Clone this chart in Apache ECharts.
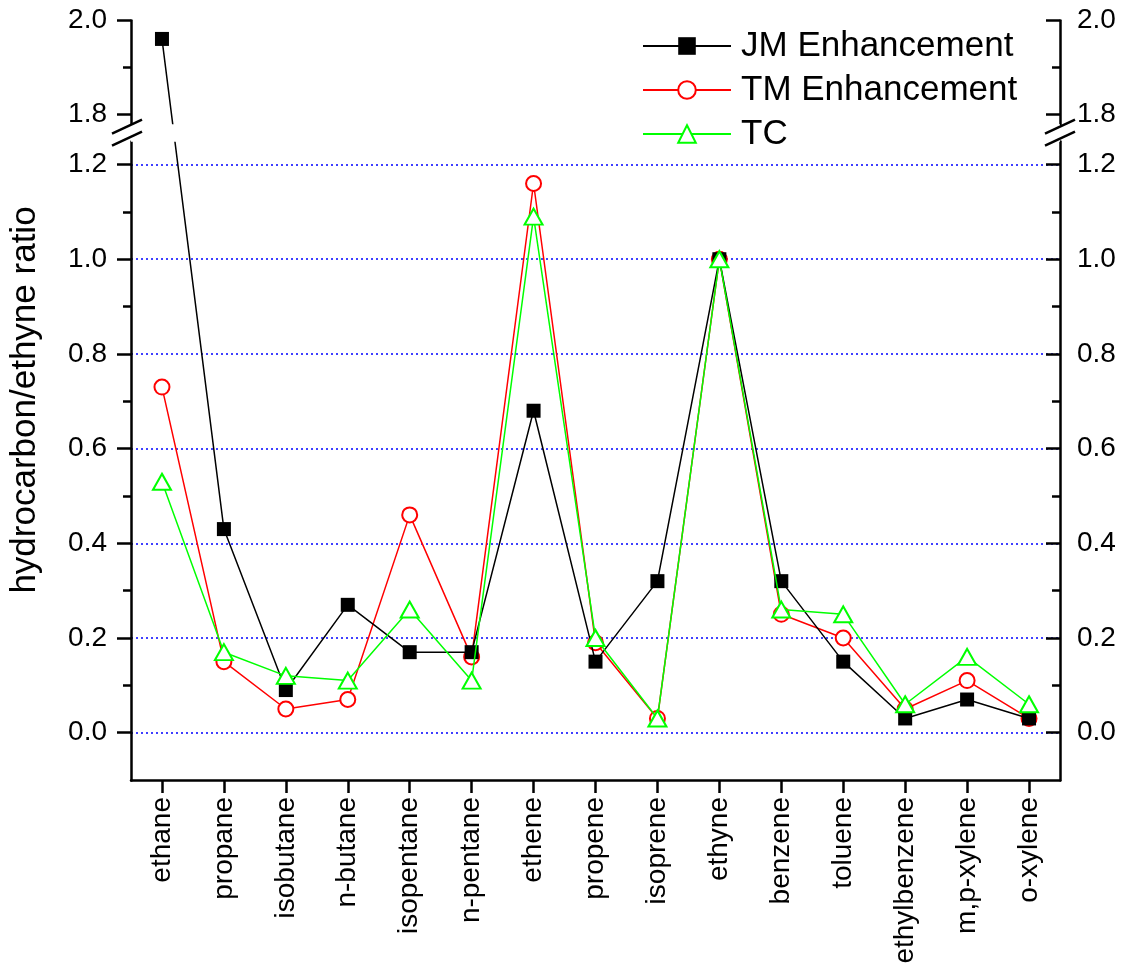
<!DOCTYPE html>
<html>
<head>
<meta charset="utf-8">
<script src="https://cdn.jsdelivr.net/npm/echarts@6/dist/echarts.min.js"></script>
<style>
  html, body { margin: 0; padding: 0; background: #fff; }
  #chart { width: 1131px; height: 969px; }
</style>
</head>
<body>
<div id="chart"></div>
<script>
// Hydrocarbon / ethyne ratios per compound
const categories = ['ethane', 'propane', 'isobutane', 'n-butane', 'isopentane', 'n-pentane',
  'ethene', 'propene', 'isoprene', 'ethyne', 'benzene', 'toluene', 'ethylbenzene', 'm,p-xylene', 'o-xylene'];
const jmEnhancement = [1.96, 0.43, 0.09, 0.27, 0.17, 0.17, 0.68, 0.15, 0.32, 1.00, 0.32, 0.15, 0.03, 0.07, 0.03];
const tmEnhancement = [0.73, 0.15, 0.05, 0.07, 0.46, 0.16, 1.16, 0.19, 0.03, 1.00, 0.25, 0.20, 0.05, 0.11, 0.03];
const tc = [0.53, 0.17, 0.12, 0.11, 0.26, 0.11, 1.09, 0.20, 0.03, 1.00, 0.26, 0.25, 0.06, 0.16, 0.06];

// Value axis: range, break, ticks and the dotted reference lines
const yMin = -0.1;
const yMax = 2.0;
const breakStart = 1.25;
const breakEnd = 1.78;
const majorTicks = [0, 0.2, 0.4, 0.6, 0.8, 1.0, 1.2, 1.8, 2.0];
const minorTicks = [0.1, 0.3, 0.5, 0.7, 0.9, 1.1, 1.9];
const gridLineValues = [0, 0.2, 0.4, 0.6, 0.8, 1.0, 1.2];

const FONT = '"Liberation Sans", Arial, Helvetica, sans-serif';
const GRID = { left: 127, right: 71, top: 20, bottom: 189 };
const AXIS_W = 2.5;

// One value axis; `minor` axes only carry the short ticks
function valueAxis(side, minor) {
  const right = side === 'right';
  return {
    type: 'value',
    position: side,
    z: 10,
    min: yMin,
    max: yMax,
    breaks: [{ start: breakStart, end: breakEnd, gap: '2.2%' }],
    breakArea: {
      show: !minor,
      expandOnClick: false,
      zigzagAmplitude: 0,
      itemStyle: { color: '#fff', borderWidth: 0, opacity: 1 }
    },
    axisLine: { show: !minor, onZero: false, lineStyle: { color: '#000', width: AXIS_W } },
    axisTick: {
      show: true,
      inside: right,
      length: minor ? 8 : 14,
      customValues: minor ? minorTicks : majorTicks,
      lineStyle: { color: '#000', width: AXIS_W }
    },
    minorTick: { show: false },
    splitLine: { show: false },
    axisLabel: {
      show: !minor,
      customValues: majorTicks,
      margin: right ? 17 : 24,
      fontSize: 28,
      fontFamily: FONT,
      color: '#000',
      formatter: v => v.toFixed(1)
    },
    name: (!minor && !right) ? 'hydrocarbon/ethyne ratio' : '',
    nameLocation: 'middle',
    nameGap: 88,
    nameTextStyle: { fontSize: 35, fontFamily: FONT, color: '#000' }
  };
}

const chart = echarts.init(document.getElementById('chart'), null, { renderer: 'canvas' });

const option = {
  backgroundColor: '#fff',
  animation: false,
  grid: GRID,
  legend: {
    orient: 'vertical',
    left: 642,
    top: 28,
    z: 1000,
    padding: 0,
    itemWidth: 88,
    itemHeight: 22,
    itemGap: 8,
    textStyle: { fontSize: 35, fontFamily: FONT, color: '#000', lineHeight: 36, padding: [0, 0, 0, 5] },
    data: ['JM Enhancement', 'TM Enhancement', 'TC']
  },
  xAxis: {
    type: 'category',
    data: categories,
    boundaryGap: true,
    z: 10,
    axisLine: { show: true, onZero: false, lineStyle: { color: '#000', width: AXIS_W } },
    axisTick: { show: true, alignWithLabel: true, length: 13, lineStyle: { color: '#000', width: AXIS_W } },
    axisLabel: { rotate: 90, margin: 17, fontSize: 28, fontFamily: FONT, color: '#000', interval: 0 },
    splitLine: { show: false }
  },
  yAxis: [valueAxis('left', false), valueAxis('right', false), valueAxis('left', true), valueAxis('right', true)],
  series: [
    {
      name: 'JM Enhancement',
      type: 'line',
      yAxisIndex: 0,
      data: jmEnhancement,
      symbol: 'rect',
      symbolSize: 14,
      lineStyle: { color: '#000', width: 1.5 },
      itemStyle: { color: '#000' },
      z: 4,
      markLine: {
        silent: true,
        symbol: 'none',
        label: { show: false },
        lineStyle: { color: '#0000ff', width: 1.5, type: [2, 3] },
        data: gridLineValues.map(v => ({ yAxis: v })),
        z: 1
      }
    },
    {
      name: 'TM Enhancement',
      type: 'line',
      yAxisIndex: 0,
      data: tmEnhancement,
      symbol: 'emptyCircle',
      symbolSize: 15,
      lineStyle: { color: '#ff0000', width: 1.5 },
      itemStyle: { color: '#ff0000', borderWidth: 1.5 },
      z: 3
    },
    {
      name: 'TC',
      type: 'line',
      yAxisIndex: 0,
      data: tc,
      symbol: 'emptyTriangle',
      symbolSize: [18, 16],
      lineStyle: { color: '#00ff00', width: 1.5 },
      itemStyle: { color: '#00ff00', borderWidth: 1.5 },
      z: 5
    }
  ]
};

chart.setOption(option);

// Double-slash break marks on both value axes
const yA = chart.convertToPixel({ yAxisIndex: 0 }, breakStart);
const yB = chart.convertToPixel({ yAxisIndex: 0 }, breakEnd);
const mid = (yA + yB) / 2;
const xLeft = GRID.left;
const xRight = 1131 - GRID.right;
function slashes(x) {
  const out = [];
  [-6, 6].forEach(off => {
    out.push({
      type: 'line',
      z: 100,
      shape: { x1: x - 15, y1: mid + off + 7, x2: x + 15, y2: mid + off - 7 },
      style: { stroke: '#000', lineWidth: AXIS_W }
    });
  });
  return out;
}
chart.setOption({ graphic: slashes(xLeft).concat(slashes(xRight)) });
</script>
</body>
</html>
